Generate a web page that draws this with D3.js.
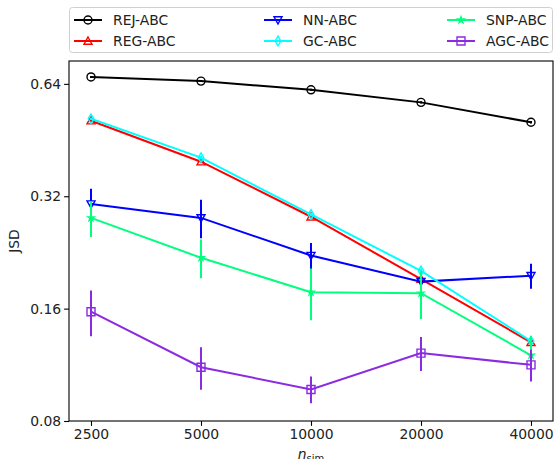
<!DOCTYPE html>
<html>
<head>
<meta charset="utf-8">
<script src="https://cdn.jsdelivr.net/npm/d3@7"></script>
<style>
  body { margin: 0; background: #fff; }
  text { font-family: "DejaVu Sans", sans-serif; }
</style>
</head>
<body>
<div id="chart"></div>
<script>
// data
var nsim = [2500, 5000, 10000, 20000, 40000];
var yTicks = [0.08, 0.16, 0.32, 0.64];

var rejMean = [0.668, 0.651, 0.617, 0.571, 0.505];
var rejErr  = [0.004, 0.004, 0.004, 0.004, 0.004];
var regMean = [0.510, 0.396, 0.282, 0.192, 0.130];
var regErr  = [0.004, 0.004, 0.003, 0.002, 0.002];
var nnMean  = [0.305, 0.280, 0.222, 0.189, 0.196];
var nnErr   = [0.030, 0.033, 0.018, 0.006, 0.015];
var gcMean  = [0.516, 0.406, 0.286, 0.202, 0.131];
var gcErr   = [0.004, 0.004, 0.003, 0.003, 0.004];
var snpMean = [0.280, 0.219, 0.177, 0.176, 0.120];
var snpErr  = [0.031, 0.026, 0.028, 0.026, 0.015];
var agcMean = [0.157, 0.1115, 0.0972, 0.1216, 0.1131];
var agcErr  = [0.022, 0.0145, 0.008, 0.0127, 0.011];

var series = [
    {name: "REJ-ABC", mean: rejMean, err: rejErr, color: "#000000", marker: "circle"},
    {name: "REG-ABC", mean: regMean, err: regErr, color: "#ff0000", marker: "tri-up"},
    {name: "NN-ABC",  mean: nnMean,  err: nnErr,  color: "#0000ff", marker: "tri-down"},
    {name: "GC-ABC",  mean: gcMean,  err: gcErr,  color: "#00ffff", marker: "diamond"},
    {name: "SNP-ABC", mean: snpMean, err: snpErr, color: "#00ff7f", marker: "star"},
    {name: "AGC-ABC", mean: agcMean, err: agcErr, color: "#8a2be2", marker: "square"}
];

var width = 554, height = 459;
var mLeft = 69, mRight = 553, mTop = 61, mBottom = 421;

var svg = d3.select("#chart").append("svg").attr("width", width).attr("height", height);

var x = d3.scaleLog().base(2)
    .domain([2500 / Math.pow(2, 0.2), 40000 * Math.pow(2, 0.2)])
    .range([mLeft, mRight]);
var y = d3.scaleLog().base(2)
    .domain([0.08, 0.737])
    .range([mBottom, mTop]);

// marker path, centred on 0,0
var markerPath = function(type, s) {
    switch (type) {
        case "circle":
            return d3.symbol().type(d3.symbolCircle).size(Math.PI * s * s)();
        case "tri-up":
            return "M0," + (-s) + "L" + s + "," + (s * 0.8) + "L" + (-s) + "," + (s * 0.8) + "Z";
        case "tri-down":
            return "M0," + s + "L" + s + "," + (-s * 0.8) + "L" + (-s) + "," + (-s * 0.8) + "Z";
        case "diamond":
            return "M0," + (-s * 1.2) + "L" + (s * 0.7) + ",0L0," + (s * 1.2) + "L" + (-s * 0.7) + ",0Z";
        case "star":
            return d3.symbol().type(d3.symbolStar).size(s * s * 0.7)();
        case "square":
            return "M" + (-s) + "," + (-s) + "H" + s + "V" + s + "H" + (-s) + "Z";
    }
};

// axes
var xAxis = d3.axisBottom(x).tickValues(nsim).tickFormat(d3.format("d")).tickSizeOuter(0).tickSize(4.9).tickPadding(3.5);
var yAxis = d3.axisLeft(y).tickValues(yTicks).tickFormat(d3.format(".2f")).tickSizeOuter(0).tickSize(4.9).tickPadding(3);

var gx = svg.append("g").attr("transform", "translate(0," + mBottom + ")").call(xAxis);
var gy = svg.append("g").attr("transform", "translate(" + mLeft + ",0)").call(yAxis);
[gx, gy].forEach(function(g) {
    g.select(".domain").remove();
    g.selectAll(".tick line").attr("stroke", "#000").attr("stroke-width", 1.1);
    g.selectAll(".tick text").attr("fill", "#222").style("font-size", "13.9px");
});

var plot = svg.append("g");
var line = d3.line().x(function(d) { return x(d[0]); }).y(function(d) { return y(d[1]); });

series.forEach(function(s) {
    var g = plot.append("g");
    var pts = nsim.map(function(n, i) { return [n, s.mean[i], s.err[i]]; });
    g.append("path").datum(pts).attr("d", line)
        .attr("fill", "none").attr("stroke", s.color).attr("stroke-width", 2);
    g.selectAll("line.err").data(pts).enter().append("line")
        .attr("x1", function(d) { return x(d[0]); })
        .attr("x2", function(d) { return x(d[0]); })
        .attr("y1", function(d) { return y(d[1] + d[2]); })
        .attr("y2", function(d) { return y(Math.max(d[1] - d[2], 0.0001)); })
        .attr("stroke", s.color).attr("stroke-width", 2);
    g.selectAll("path.mk").data(pts).enter().append("path")
        .attr("transform", function(d) { return "translate(" + x(d[0]) + "," + y(d[1]) + ")"; })
        .attr("d", markerPath(s.marker, 4))
        .attr("fill", s.marker === "star" ? s.color : "none")
        .attr("stroke", s.color).attr("stroke-width", 1.4);
});

// frame
svg.append("rect").attr("x", mLeft).attr("y", mTop)
    .attr("width", mRight - mLeft).attr("height", mBottom - mTop)
    .attr("fill", "none").attr("stroke", "#000").attr("stroke-width", 1.1);

// axis labels
svg.append("text").attr("transform", "translate(19," + ((mTop + mBottom) / 2) + ") rotate(-90)")
    .attr("text-anchor", "middle").style("font-size", "13.9px").attr("fill", "#222").text("JSD");
var xl = svg.append("text").attr("x", (mLeft + mRight) / 2).attr("y", 459)
    .attr("text-anchor", "middle").style("font-size", "13.9px").attr("fill", "#222");
xl.append("tspan").style("font-style", "italic").text("n");
xl.append("tspan").attr("dy", 3).style("font-size", "10px").text("sim");

// legend
var legend = svg.append("g");
legend.append("rect").attr("x", 69.5).attr("y", 7.5).attr("width", 483).attr("height", 45)
    .attr("rx", 3).attr("fill", "#fff").attr("fill-opacity", 0.8)
    .attr("stroke", "#d0d0d0").attr("stroke-width", 1);
var colX = [74, 264, 447];
var rowY = [20, 41];
series.forEach(function(s, i) {
    var cx = colX[Math.floor(i / 2)], cy = rowY[i % 2];
    var g = legend.append("g").attr("transform", "translate(" + cx + "," + cy + ")");
    g.append("line").attr("x1", 0).attr("x2", 28).attr("y1", 0).attr("y2", 0)
        .attr("stroke", s.color).attr("stroke-width", 2);
    g.append("path").attr("transform", "translate(14,0)")
        .attr("d", markerPath(s.marker, 4))
        .attr("fill", s.marker === "star" ? s.color : "none")
        .attr("stroke", s.color).attr("stroke-width", 1.4);
    g.append("text").attr("x", 39).attr("y", 5).style("font-size", "13.9px").attr("fill", "#222").text(s.name);
});
</script>
</body>
</html>
